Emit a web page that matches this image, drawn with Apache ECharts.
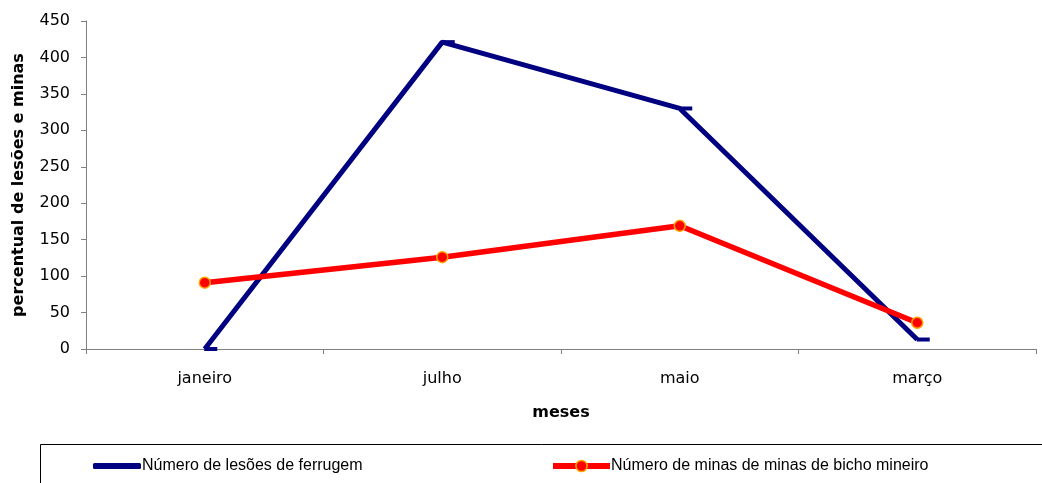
<!DOCTYPE html>
<html>
<head>
<meta charset="utf-8">
<script src="https://cdn.jsdelivr.net/npm/echarts@6/dist/echarts.min.js"></script>
<style>
  html, body { margin: 0; padding: 0; background: #ffffff; }
  #chart { width: 1042px; height: 483px; }
</style>
</head>
<body>
<div id="chart"></div>
<script>
// Monthly counts per category
const meses = ['janeiro', 'julho', 'maio', 'março'];
const lesoesFerrugem = [0, 421, 330, 13];
const minasBichoMineiro = [91, 126, 169, 36];
const yTicks = [0, 50, 100, 150, 200, 250, 300, 350, 400, 450];

const serieA = 'Número de lesões de ferrugem';
const serieB = 'Número de minas de minas de bicho mineiro';

const axisFont = '"DejaVu Sans", sans-serif';
const legendFont = '"Liberation Sans", Arial, sans-serif';
const chart = echarts.init(document.getElementById('chart'), null, { renderer: 'canvas' });

chart.setOption({
  animation: false,
  backgroundColor: '#ffffff',
  textStyle: { fontFamily: axisFont },
  grid: { left: 86, right: 6, top: 21, bottom: 134, containLabel: false, outerBoundsMode: 'none' },
  xAxis: {
    type: 'category',
    data: meses,
    boundaryGap: true,
    name: 'meses',
    nameLocation: 'middle',
    nameGap: 56,
    nameTextStyle: { fontSize: 16, fontWeight: 'bold', color: '#000', fontFamily: axisFont },
    axisLine: { lineStyle: { color: '#7f7f7f', width: 1 } },
    axisTick: { show: true, length: 5, alignWithLabel: false, lineStyle: { color: '#7f7f7f' } },
    axisLabel: { fontSize: 16, color: '#000', margin: 22, fontFamily: axisFont },
    splitLine: { show: false }
  },
  yAxis: {
    type: 'value',
    min: yTicks[0],
    max: yTicks[yTicks.length - 1],
    interval: yTicks[1] - yTicks[0],
    name: 'percentual de lesões e minas',
    nameLocation: 'middle',
    nameGap: 59,
    nameRotate: 90,
    nameTextStyle: { fontSize: 16, fontWeight: 'bold', color: '#000', fontFamily: axisFont },
    axisLine: { show: true, lineStyle: { color: '#7f7f7f', width: 1 } },
    axisTick: { show: true, length: 5, lineStyle: { color: '#7f7f7f' } },
    axisLabel: { fontSize: 16, color: '#000', margin: 16, fontFamily: axisFont },
    splitLine: { show: false }
  },
  legend: [
    {
      left: 88, top: 453,
      data: [{ name: serieA, icon: 'roundRect' }],
      itemWidth: 48, itemHeight: 6, itemGap: 0,
      textStyle: { fontSize: 16, color: '#000', fontFamily: legendFont, padding: [0, 0, 0, -4] }
    },
    {
      left: 545, top: 453,
      data: [serieB],
      itemWidth: 57, itemHeight: 14, itemGap: 0,
      lineStyle: { width: 6 },
      itemStyle: { borderWidth: 1.5 },
      textStyle: { fontSize: 16, color: '#000', fontFamily: legendFont, padding: [0, 0, 0, -4] }
    }
  ],
  graphic: [
    {
      type: 'rect',
      shape: { x: 40.5, y: 444.5, width: 1010, height: 60 },
      style: { fill: 'none', stroke: '#000', lineWidth: 1 },
      silent: true,
      z: -1
    }
  ],
  series: [
    {
      name: serieA,
      type: 'line',
      data: lesoesFerrugem,
      color: '#000080',
      lineStyle: { color: '#000080', width: 5 },
      symbol: 'rect',
      symbolSize: [13, 4],
      symbolOffset: [6, 0],
      itemStyle: { color: '#000080' }
    },
    {
      name: serieB,
      type: 'line',
      data: minasBichoMineiro,
      color: '#ff0000',
      lineStyle: { color: '#ff0000', width: 5.5 },
      symbol: 'circle',
      symbolSize: 11,
      itemStyle: { color: '#ff0000', borderColor: '#ffa500', borderWidth: 1.5 }
    }
  ]
});
</script>
</body>
</html>
